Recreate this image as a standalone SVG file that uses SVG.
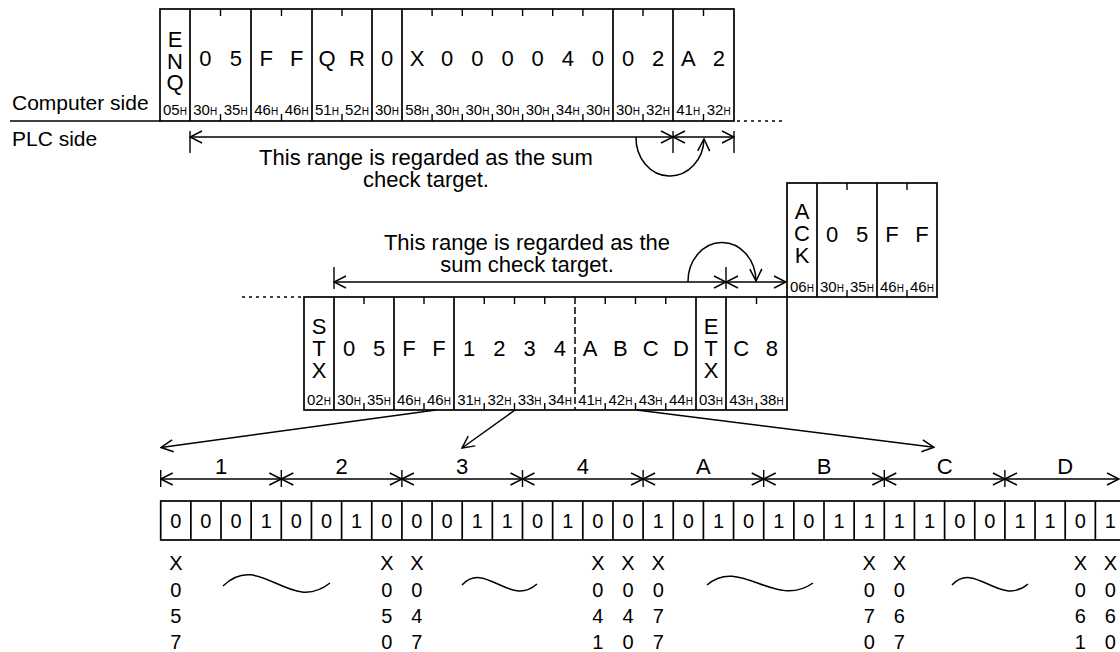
<svg xmlns="http://www.w3.org/2000/svg" width="1120" height="652" viewBox="0 0 1120 652">
<style>
text{font-family:"Liberation Sans",Arial,sans-serif;fill:#000}
.m{font-size:22px;text-anchor:middle}
.hx{font-size:15px;text-anchor:middle}
.h{font-size:10px}
.lb{font-size:21px}
.an{font-size:22px;text-anchor:middle}
.bt{font-size:20px;text-anchor:middle}
.xl{font-size:20px;text-anchor:middle}
.fr{fill:none;stroke:#000;stroke-width:1.7}
.tk{fill:none;stroke:#000;stroke-width:1.4}
.ln{fill:none;stroke:#000;stroke-width:1.5}
.ar{fill:none;stroke:#000;stroke-width:1.5;marker-start:url(#ah);marker-end:url(#ah)}
.dot{fill:none;stroke:#000;stroke-width:1.5;stroke-dasharray:3 4}
</style>
<defs>
<marker id="ah" viewBox="0 0 14 14" refX="13" refY="7" markerWidth="14" markerHeight="14" markerUnits="userSpaceOnUse" orient="auto-start-reverse">
<path d="M1,1 L13,7 L1,13" fill="none" stroke="#000" stroke-width="1.5"/>
</marker>
<marker id="ae" viewBox="0 0 14 14" refX="13" refY="7" markerWidth="14" markerHeight="14" markerUnits="userSpaceOnUse" orient="auto">
<path d="M1,1 L13,7 L1,13" fill="none" stroke="#000" stroke-width="1.5"/>
</marker>
</defs>

<g id="side-labels">
<text class="lb" x="12" y="110">Computer side</text>
<text class="lb" x="12" y="146">PLC side</text>
<line class="ln" x1="10" y1="121" x2="160" y2="121"/>
</g>

<g id="frame-request">
<rect class="fr" x="160" y="9" width="574" height="112"/>
<path class="fr" d="M190,9V121M251,9V121M312,9V121M372,9V121M402,9V121M613,9V121M673,9V121"/>
<path class="tk" d="M220.5,9v7M281.5,9v7M342,9v7M432.1,9v7M462.3,9v7M492.4,9v7M522.6,9v7M552.7,9v7M582.9,9v7M643,9v7M703.5,9v7
M220.5,114v7M281.5,114v7M342,114v7M432.1,114v7M462.3,114v7M492.4,114v7M522.6,114v7M552.7,114v7M582.9,114v7M643,114v7M703.5,114v7"/>
<text class="m" x="175" y="47">E</text>
<text class="m" x="175" y="68.5">N</text>
<text class="m" x="175" y="90">Q</text>
<text class="m" x="205.25" y="66">0</text><text class="m" x="235.75" y="66">5</text>
<text class="m" x="266.25" y="66">F</text><text class="m" x="296.75" y="66">F</text>
<text class="m" x="327" y="66">Q</text><text class="m" x="357" y="66">R</text>
<text class="m" x="387" y="66">0</text>
<text class="m" x="417.1" y="66">X</text><text class="m" x="447.2" y="66">0</text><text class="m" x="477.4" y="66">0</text><text class="m" x="507.5" y="66">0</text><text class="m" x="537.6" y="66">0</text><text class="m" x="567.8" y="66">4</text><text class="m" x="597.9" y="66">0</text>
<text class="m" x="628" y="66">0</text><text class="m" x="658" y="66">2</text>
<text class="m" x="688.25" y="66">A</text><text class="m" x="718.75" y="66">2</text>
<text class="hx" x="175" y="115">05<tspan class="h">H</tspan></text>
<text class="hx" x="205.25" y="115">30<tspan class="h">H</tspan></text>
<text class="hx" x="235.75" y="115">35<tspan class="h">H</tspan></text>
<text class="hx" x="266.25" y="115">46<tspan class="h">H</tspan></text>
<text class="hx" x="296.75" y="115">46<tspan class="h">H</tspan></text>
<text class="hx" x="327" y="115">51<tspan class="h">H</tspan></text>
<text class="hx" x="357" y="115">52<tspan class="h">H</tspan></text>
<text class="hx" x="387" y="115">30<tspan class="h">H</tspan></text>
<text class="hx" x="417.1" y="115">58<tspan class="h">H</tspan></text>
<text class="hx" x="447.2" y="115">30<tspan class="h">H</tspan></text>
<text class="hx" x="477.4" y="115">30<tspan class="h">H</tspan></text>
<text class="hx" x="507.5" y="115">30<tspan class="h">H</tspan></text>
<text class="hx" x="537.6" y="115">30<tspan class="h">H</tspan></text>
<text class="hx" x="567.8" y="115">34<tspan class="h">H</tspan></text>
<text class="hx" x="597.9" y="115">30<tspan class="h">H</tspan></text>
<text class="hx" x="628" y="115">30<tspan class="h">H</tspan></text>
<text class="hx" x="658" y="115">32<tspan class="h">H</tspan></text>
<text class="hx" x="688.25" y="115">41<tspan class="h">H</tspan></text>
<text class="hx" x="718.75" y="115">32<tspan class="h">H</tspan></text>
</g>

<g id="note-request">
<text class="an" x="426" y="165">This range is regarded as the sum</text>
<text class="an" x="426" y="187">check target.</text>
</g>

<g id="frame-ack">
<rect class="fr" x="787" y="183" width="150" height="114"/>
<path class="fr" d="M817,183V297M877,183V297"/>
<path class="tk" d="M847,183v7M907,183v7M847,290v7M907,290v7"/>
<text class="m" x="802" y="219">A</text>
<text class="m" x="802" y="241">C</text>
<text class="m" x="802" y="263">K</text>
<text class="m" x="832" y="242">0</text><text class="m" x="862" y="242">5</text>
<text class="m" x="892" y="242">F</text><text class="m" x="922" y="242">F</text>
<text class="hx" x="802" y="292">06<tspan class="h">H</tspan></text>
<text class="hx" x="832" y="292">30<tspan class="h">H</tspan></text>
<text class="hx" x="862" y="292">35<tspan class="h">H</tspan></text>
<text class="hx" x="892" y="292">46<tspan class="h">H</tspan></text>
<text class="hx" x="922" y="292">46<tspan class="h">H</tspan></text>
</g>

<g id="note-response">
<text class="an" x="527" y="250">This range is regarded as the</text>
<text class="an" x="527" y="272">sum check target.</text>
</g>

<g id="frame-response">
<rect class="fr" x="304" y="297" width="483" height="113"/>
<path class="fr" d="M334,297V410M394,297V410M454,297V410M696,297V410M726,297V410"/>
<line x1="575" y1="297" x2="575" y2="410" stroke="#000" stroke-width="1.5" stroke-dasharray="7 3"/>
<path class="tk" d="M364,297v7M424,297v7M484.25,297v7M514.5,297v7M544.75,297v7M605.25,297v7M635.5,297v7M665.75,297v7M756.5,297v7
M364,403v7M424,403v7M484.25,403v7M514.5,403v7M544.75,403v7M605.25,403v7M635.5,403v7M665.75,403v7M756.5,403v7"/>
<text class="m" x="319" y="334">S</text>
<text class="m" x="319" y="356">T</text>
<text class="m" x="319" y="378">X</text>
<text class="m" x="349" y="356">0</text><text class="m" x="379" y="356">5</text>
<text class="m" x="409" y="356">F</text><text class="m" x="439" y="356">F</text>
<text class="m" x="469.1" y="356">1</text><text class="m" x="499.4" y="356">2</text><text class="m" x="529.6" y="356">3</text><text class="m" x="559.9" y="356">4</text>
<text class="m" x="590.1" y="356">A</text><text class="m" x="620.4" y="356">B</text><text class="m" x="650.6" y="356">C</text><text class="m" x="680.9" y="356">D</text>
<text class="m" x="711" y="334">E</text>
<text class="m" x="711" y="356">T</text>
<text class="m" x="711" y="378">X</text>
<text class="m" x="741.25" y="356">C</text><text class="m" x="771.75" y="356">8</text>
<text class="hx" x="319" y="405">02<tspan class="h">H</tspan></text>
<text class="hx" x="349" y="405">30<tspan class="h">H</tspan></text>
<text class="hx" x="379" y="405">35<tspan class="h">H</tspan></text>
<text class="hx" x="409" y="405">46<tspan class="h">H</tspan></text>
<text class="hx" x="439" y="405">46<tspan class="h">H</tspan></text>
<text class="hx" x="469.1" y="405">31<tspan class="h">H</tspan></text>
<text class="hx" x="499.4" y="405">32<tspan class="h">H</tspan></text>
<text class="hx" x="529.6" y="405">33<tspan class="h">H</tspan></text>
<text class="hx" x="559.9" y="405">34<tspan class="h">H</tspan></text>
<text class="hx" x="590.1" y="405">41<tspan class="h">H</tspan></text>
<text class="hx" x="620.4" y="405">42<tspan class="h">H</tspan></text>
<text class="hx" x="650.6" y="405">43<tspan class="h">H</tspan></text>
<text class="hx" x="680.9" y="405">44<tspan class="h">H</tspan></text>
<text class="hx" x="711" y="405">03<tspan class="h">H</tspan></text>
<text class="hx" x="741.25" y="405">43<tspan class="h">H</tspan></text>
<text class="hx" x="771.75" y="405">38<tspan class="h">H</tspan></text>
</g>

<g id="group-labels">
<text class="m" x="221" y="474">1</text>
<text class="m" x="341.6" y="474">2</text>
<text class="m" x="462.2" y="474">3</text>
<text class="m" x="582.8" y="474">4</text>
<text class="m" x="703.4" y="474">A</text>
<text class="m" x="824" y="474">B</text>
<text class="m" x="944.6" y="474">C</text>
<text class="m" x="1065.2" y="474">D</text>
</g>

<g id="bits">
<rect class="fr" x="160.7" y="501" width="965" height="39"/>
<path class="fr" d="M190.85,501V540M221,501V540M251.15,501V540M281.3,501V540M311.45,501V540M341.6,501V540M371.75,501V540M401.9,501V540M432.05,501V540M462.2,501V540M492.35,501V540M522.5,501V540M552.65,501V540M582.8,501V540M612.95,501V540M643.1,501V540M673.25,501V540M703.4,501V540M733.55,501V540M763.7,501V540M793.85,501V540M824,501V540M854.15,501V540M884.3,501V540M914.45,501V540M944.6,501V540M974.75,501V540M1004.9,501V540M1035.05,501V540M1065.2,501V540M1095.35,501V540"/>
<text class="bt" x="175.8" y="528">0</text><text class="bt" x="205.9" y="528">0</text><text class="bt" x="236" y="528">0</text><text class="bt" x="266.2" y="528">1</text>
<text class="bt" x="296.3" y="528">0</text><text class="bt" x="326.5" y="528">0</text><text class="bt" x="356.6" y="528">1</text><text class="bt" x="386.8" y="528">0</text>
<text class="bt" x="416.9" y="528">0</text><text class="bt" x="447.1" y="528">0</text><text class="bt" x="477.2" y="528">1</text><text class="bt" x="507.4" y="528">1</text>
<text class="bt" x="537.5" y="528">0</text><text class="bt" x="567.7" y="528">1</text><text class="bt" x="597.9" y="528">0</text><text class="bt" x="628" y="528">0</text>
<text class="bt" x="658.2" y="528">1</text><text class="bt" x="688.3" y="528">0</text><text class="bt" x="718.5" y="528">1</text><text class="bt" x="748.6" y="528">0</text>
<text class="bt" x="778.8" y="528">1</text><text class="bt" x="808.9" y="528">0</text><text class="bt" x="839.1" y="528">1</text><text class="bt" x="869.2" y="528">1</text>
<text class="bt" x="899.4" y="528">1</text><text class="bt" x="929.5" y="528">1</text><text class="bt" x="959.7" y="528">0</text><text class="bt" x="989.8" y="528">0</text>
<text class="bt" x="1020" y="528">1</text><text class="bt" x="1050.1" y="528">1</text><text class="bt" x="1080.3" y="528">0</text><text class="bt" x="1110.4" y="528">1</text>
</g>

<g id="bit-numbers">
<g class="xl">
<text x="175.8" y="570">X</text><text x="175.8" y="596.5">0</text><text x="175.8" y="623">5</text><text x="175.8" y="649">7</text>
<text x="386.8" y="570">X</text><text x="386.8" y="596.5">0</text><text x="386.8" y="623">5</text><text x="386.8" y="649">0</text>
<text x="416.9" y="570">X</text><text x="416.9" y="596.5">0</text><text x="416.9" y="623">4</text><text x="416.9" y="649">7</text>
<text x="597.9" y="570">X</text><text x="597.9" y="596.5">0</text><text x="597.9" y="623">4</text><text x="597.9" y="649">1</text>
<text x="628" y="570">X</text><text x="628" y="596.5">0</text><text x="628" y="623">4</text><text x="628" y="649">0</text>
<text x="658.2" y="570">X</text><text x="658.2" y="596.5">0</text><text x="658.2" y="623">7</text><text x="658.2" y="649">7</text>
<text x="869.2" y="570">X</text><text x="869.2" y="596.5">0</text><text x="869.2" y="623">7</text><text x="869.2" y="649">0</text>
<text x="899.4" y="570">X</text><text x="899.4" y="596.5">0</text><text x="899.4" y="623">6</text><text x="899.4" y="649">7</text>
<text x="1080.3" y="570">X</text><text x="1080.3" y="596.5">0</text><text x="1080.3" y="623">6</text><text x="1080.3" y="649">1</text>
<text x="1110.4" y="570">X</text><text x="1110.4" y="596.5">0</text><text x="1110.4" y="623">6</text><text x="1110.4" y="649">0</text>
</g>
<path class="ln" d="M223,586 C260,550 290,615 330,583"/>
<path class="ln" d="M462,585 C485,560 510,608 537,584"/>
<path class="ln" d="M707,585 C740,556 775,610 813,583"/>
<path class="ln" d="M952,585 C975,560 1000,608 1028,584"/>
</g>

<g id="connectors">
<line class="dot" x1="737" y1="121" x2="784" y2="121"/>
<line class="dot" x1="242" y1="297" x2="302" y2="297"/>
<path class="tk" d="M190,131V153M673,131V153M734,131V153"/>
<line class="ar" x1="190" y1="137" x2="673" y2="137"/>
<line class="ar" x1="673" y1="137" x2="734" y2="137"/>
<path class="ln" d="M636,137 A34 38 0 0 0 704,139" marker-end="url(#ae)"/>
<path class="tk" d="M334,267V289M726,267V289"/>
<line class="ar" x1="334" y1="282" x2="726" y2="282"/>
<line class="ar" x1="726" y1="282" x2="786" y2="282"/>
<path class="ln" d="M688,282 A34 39 0 0 1 756,281" marker-end="url(#ae)"/>
<line class="ln" x1="436" y1="410" x2="161" y2="447.5" marker-end="url(#ae)"/>
<line class="ln" x1="515" y1="410" x2="462" y2="448" marker-end="url(#ae)"/>
<line class="ln" x1="636.5" y1="410" x2="934" y2="447.3" marker-end="url(#ae)"/>
<path class="tk" d="M160.7,470V487M281.3,470V487M401.9,470V487M522.5,470V487M643.1,470V487M763.7,470V487M884.3,470V487M1004.9,470V487"/>
<line class="ar" x1="160.7" y1="479" x2="281.3" y2="479"/>
<line class="ar" x1="281.3" y1="479" x2="401.9" y2="479"/>
<line class="ar" x1="401.9" y1="479" x2="522.5" y2="479"/>
<line class="ar" x1="522.5" y1="479" x2="643.1" y2="479"/>
<line class="ar" x1="643.1" y1="479" x2="763.7" y2="479"/>
<line class="ar" x1="763.7" y1="479" x2="884.3" y2="479"/>
<line class="ar" x1="884.3" y1="479" x2="1004.9" y2="479"/>
<line class="ar" x1="1004.9" y1="479" x2="1119" y2="479"/>
</g>
</svg>
